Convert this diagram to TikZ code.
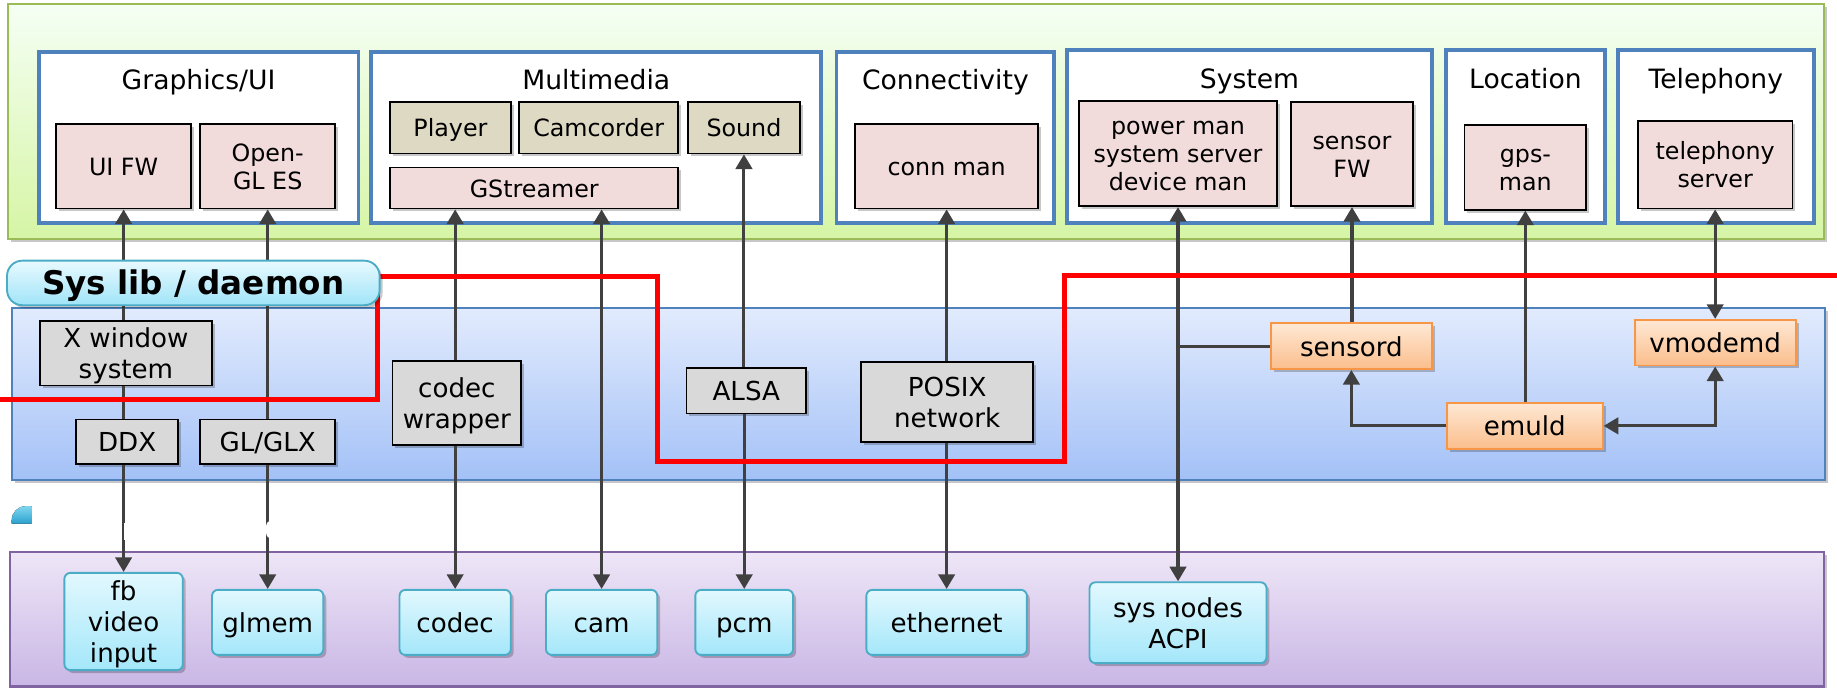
\documentclass[tikz,border=0pt]{standalone}
\usepackage{fontspec}
\setmainfont{DejaVu Sans}
\usetikzlibrary{arrows.meta,shadows}

\definecolor{arrgray}{HTML}{404040}
\definecolor{greenedge}{HTML}{9BBB59}
\definecolor{blueedge}{HTML}{4F81BD}
\definecolor{purpleedge}{HTML}{8064A2}
\definecolor{orangeedge}{HTML}{F79646}
\definecolor{cyanedge}{HTML}{4BACC6}
\definecolor{pinkfill}{HTML}{F2DCDB}
\definecolor{tanfill}{HTML}{DDD9C3}
\definecolor{grayfill}{HTML}{D9D9D9}
\definecolor{redline}{HTML}{FF0000}

% invisible struts that fix each text line's height and depth
\newcommand\lineL{\rule[-4.8pt]{0pt}{26.6pt}}
\newcommand\lineS{\rule[-4.3pt]{0pt}{24.2pt}}
\newcommand\lineT{\rule[-5.7pt]{0pt}{27pt}}
\newcommand\lineB{\rule[-5.7pt]{0pt}{32pt}}

\tikzset{
  x=1pt, y=-1pt,
  >={Triangle[length=12.5pt,width=14pt]},
  softshadow/.style={drop shadow={shadow xshift=2.5pt, shadow yshift=-2.5pt, opacity=0.22, fill=black}},
  panel/.style={rectangle, inner sep=0pt, line width=1.8pt, softshadow},
  greenpanel/.style={panel, draw=greenedge, top color=green!4!white, bottom color={rgb,255:red,214;green,245;blue,165}},
  bluepanel/.style={panel, draw=blueedge, top color={rgb,255:red,226;green,235;blue,253}, bottom color={rgb,255:red,163;green,193;blue,247}},
  purplepanel/.style={panel, draw=purpleedge, top color={rgb,255:red,238;green,230;blue,247}, bottom color={rgb,255:red,201;green,182;blue,229}},
  module/.style={rectangle, draw=blueedge, fill=white, line width=3.4pt, inner sep=0pt},
  title/.style={font=\fontsize{22.7}{27}\selectfont, inner sep=0pt},
  inbox/.style={rectangle, draw=black, line width=1.5pt, inner sep=0pt, align=center, softshadow,
    font=\fontsize{20.3}{24.2}\selectfont},
  pinkbox/.style={inbox, fill=pinkfill},
  tanbox/.style={inbox, fill=tanfill},
  graybox/.style={inbox, fill=grayfill, font=\fontsize{22.3}{26.6}\selectfont},
  orangebox/.style={rectangle, draw=orangeedge, line width=1.6pt, inner sep=0pt, align=center, softshadow,
    top color={rgb,255:red,254;green,232;blue,212}, bottom color={rgb,255:red,251;green,190;blue,140},
    font=\fontsize{22.3}{26.6}\selectfont},
  cyanbox/.style={rectangle, rounded corners=5pt, draw=cyanedge, line width=1.6pt, inner sep=0pt, align=center, softshadow,
    top color={rgb,255:red,226;green,248;blue,254}, bottom color={rgb,255:red,164;green,231;blue,250},
    font=\fontsize{22.3}{26.6}\selectfont},
  labelbox/.style={rectangle, rounded corners=13pt, draw=cyanedge, line width=1.6pt, inner sep=0pt, softshadow,
    top color={rgb,255:red,232;green,250;blue,255}, bottom color={rgb,255:red,160;green,228;blue,248},
    font=\bfseries\fontsize{27.8}{32}\selectfont},
  link/.style={draw=arrgray, line width=2.6pt},
  border/.style={draw=redline, line width=4.3pt},
}

\begin{document}
\begin{tikzpicture}
\useasboundingbox (0,0) rectangle (1568,587);

% layer panels
\node[greenpanel, minimum width=1550pt, minimum height=200.5pt] (apps) at (782,103.75) {};
\node[bluepanel, minimum width=1548pt, minimum height=147pt] (syslayer) at (784,336.5) {};
\node[purplepanel, minimum width=1548.5pt, minimum height=115pt] (kernel) at (782.75,528.5) {};

% application modules
\node[module, minimum width=273pt, minimum height=146pt] (gfx) at (169.5,117) {};
\node[module, minimum width=384pt, minimum height=146pt] (mm) at (509,117) {};
\node[module, minimum width=186pt, minimum height=146pt] (conn) at (807,117) {};
\node[module, minimum width=311pt, minimum height=147pt] (sys) at (1066.5,116.5) {};
\node[module, minimum width=136pt, minimum height=147pt] (loc) at (1302,116.5) {};
\node[module, minimum width=167pt, minimum height=147pt] (tel) at (1464.5,116.5) {};

\node[title] (gfxt) at (169.5,69) {\lineT Graphics/UI};
\node[title] (mmt) at (509,69) {\lineT Multimedia};
\node[title] (connt) at (807,69) {\lineT Connectivity};
\node[title] (syst) at (1066.5,67.5) {\lineT System};
\node[title] (loct) at (1302,67.5) {\lineT Location};
\node[title] (telt) at (1464.5,67.5) {\lineT Telephony};

% framework components
\node[pinkbox, minimum width=115pt, minimum height=72pt] (uifw) at (105.5,142) {\lineS UI FW};
\node[pinkbox, minimum width=115pt, minimum height=72pt] (ogl) at (228.5,142) {\lineS Open-\\\lineS GL ES};
\node[tanbox, minimum width=103pt, minimum height=44pt] (player) at (384.5,109) {\lineS Player};
\node[tanbox, minimum width=136pt, minimum height=44pt] (camc) at (511,109) {\lineS Camcorder};
\node[tanbox, minimum width=96pt, minimum height=44pt] (sound) at (635,109) {\lineS Sound};
\node[pinkbox, minimum width=246pt, minimum height=35pt] (gst) at (456,160.5) {\lineS GStreamer};
\node[pinkbox, minimum width=156pt, minimum height=72pt] (connman) at (808,142) {\lineS conn man};
\node[pinkbox, minimum width=169pt, minimum height=90pt] (powman) at (1005.5,131) {\lineS power man\\\lineS system server\\\lineS device man};
\node[pinkbox, minimum width=104pt, minimum height=89pt] (sensfw) at (1154,131.5) {\lineS sensor\\\lineS FW};
\node[pinkbox, minimum width=104pt, minimum height=72pt] (gps) at (1302,143) {\lineS gps-\\\lineS man};
\node[pinkbox, minimum width=132pt, minimum height=75pt] (telsrv) at (1464,140.5) {\lineS telephony\\\lineS server};

% system libraries and daemons
\node[graybox, minimum width=147pt, minimum height=55pt] (xwin) at (107.5,301.5) {\lineL X window\\\lineL system};
\node[graybox, minimum width=87pt, minimum height=38pt] (ddx) at (108.5,377) {\lineL DDX};
\node[graybox, minimum width=115pt, minimum height=38pt] (glx) at (228.5,377) {\lineL GL/GLX};
\node[graybox, minimum width=110pt, minimum height=72pt] (cwrap) at (390,344) {\lineL codec\\\lineL wrapper};
\node[graybox, minimum width=102pt, minimum height=39pt] (alsa) at (637,333.5) {\lineL ALSA};
\node[graybox, minimum width=147pt, minimum height=68pt] (posix) at (808.5,343) {\lineL POSIX\\\lineL network};
\node[orangebox, minimum width=137pt, minimum height=39pt] (sensord) at (1153.5,295.5) {\lineL sensord};
\node[orangebox, minimum width=137.5pt, minimum height=39pt] (vmodemd) at (1464,292.5) {\lineL vmodemd};
\node[orangebox, minimum width=133pt, minimum height=39pt] (emuld) at (1301.5,363.5) {\lineL emuld};

% kernel devices
\node[cyanbox, minimum width=101pt, minimum height=83pt] (fb) at (105.5,530.5) {\lineL fb\\\lineL video\\\lineL input};
\node[cyanbox, minimum width=95pt, minimum height=55.5pt] (glmem) at (228.5,531.25) {\lineL glmem};
\node[cyanbox, minimum width=95pt, minimum height=55.5pt] (codec) at (388.5,531.25) {\lineL codec};
\node[cyanbox, minimum width=95pt, minimum height=55.5pt] (cam) at (513.5,531.25) {\lineL cam};
\node[cyanbox, minimum width=83.5pt, minimum height=55.5pt] (pcm) at (635.25,531.25) {\lineL pcm};
\node[cyanbox, minimum width=137pt, minimum height=55.5pt] (eth) at (808,531.25) {\lineL ethernet};
\node[cyanbox, minimum width=151pt, minimum height=69pt] (sysnodes) at (1005.5,531.5) {\lineL sys nodes\\\lineL ACPI};

% connectors
\draw[link,->] (xwin.north -| uifw.south) -- (uifw.south);
\draw[link] (xwin.south -| uifw.south) -- (ddx.north -| uifw.south);
\draw[link,->] (ddx.south -| fb.north) -- (fb.north);

\draw[link,->] (glx.north) -- (ogl.south);
\draw[link,->] (glx.south) -- (glmem.north);

\draw[link,->] (cwrap.north -| codec.north) -- (gst.south -| codec.north);
\draw[link,->] (cwrap.south -| codec.north) -- (codec.north);
\draw[link,<->] (gst.south -| cam.north) -- (cam.north);

\draw[link,->] (alsa.north -| sound.south) -- (sound.south);
\draw[link,->] (alsa.south -| pcm.north) -- (pcm.north);

\draw[link,->] (posix.north -| connman.south) -- (connman.south);
\draw[link,->] (posix.south -| eth.north) -- (eth.north);

\draw[link,<->] (powman.south) -- (sysnodes.north);
\draw[link] (sensord.west) -- (sensord.west -| powman.south);
\draw[link,->] (sensord.north -| sensfw.south) -- (sensfw.south);
\draw[link,->] (emuld.north -| gps.south) -- (gps.south);
\draw[link,<->] (vmodemd.north -| telsrv.south) -- (telsrv.south);
\draw[link,->] (emuld.west) -| (sensord.south);
\draw[link,<->] (emuld.east) -| (vmodemd.south);

% white glyph fragments crossing two links
\fill[white] (105.6,446) rectangle (107.4,461);
\fill[white] (229.8,452) ellipse [x radius=3pt, y radius=7pt];

% small rounded tab corner
\fill[top color={rgb,255:red,128;green,214;blue,240}, bottom color={rgb,255:red,40;green,160;blue,205}]
  (10,447) [rounded corners=12pt] -- (10,432) [sharp corners] -- (27,432) -- (27,447) -- cycle;

% domain boundary
\draw[border] (0,341) -- (322,341) -- (322,236) -- (561.5,236) -- (561.5,394)
  -- (908.5,394) -- (908.5,235) -- (1568,235);

% layer label
\node[labelbox, minimum width=318pt, minimum height=38pt] (syslib) at (165,241.5) {\lineB Sys lib / daemon};
\end{tikzpicture}
\end{document}
